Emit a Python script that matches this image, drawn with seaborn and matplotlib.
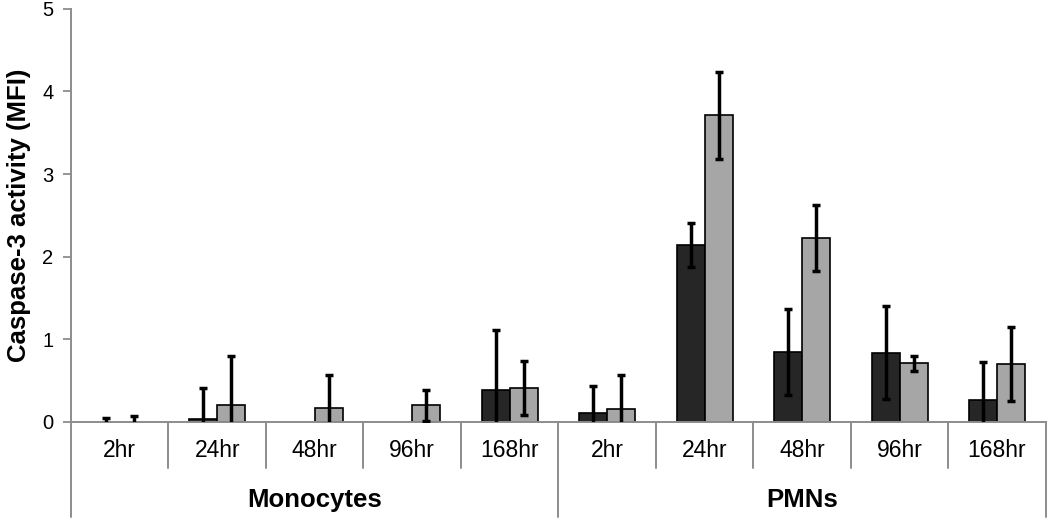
import numpy as np
import pandas as pd
import matplotlib
matplotlib.use("Agg")
import matplotlib.pyplot as plt
import seaborn as sns

groups = ["Monocytes", "PMNs"]
times = ["2hr", "24hr", "48hr", "96hr", "168hr"]
series = ["Series 1", "Series 2"]
yticks = [0, 1, 2, 3, 4, 5]

# values per series: Monocytes (5 times) then PMNs (5 times)
s1_vals = [0.0, 0.03, 0.0, 0.0, 0.39, 0.11, 2.14, 0.85, 0.84, 0.26]
s1_err = [0.045, 0.38, 0.0, 0.0, 0.72, 0.33, 0.27, 0.52, 0.56, 0.47]
s2_vals = [0.0, 0.20, 0.17, 0.20, 0.41, 0.16, 3.71, 2.23, 0.71, 0.70]
s2_err = [0.07, 0.60, 0.40, 0.19, 0.33, 0.41, 0.53, 0.40, 0.09, 0.45]

colors = ["#262626", "#a6a6a6"]

sns.set_theme(style="white")
plt.rcParams["font.family"] = ["Liberation Sans", "DejaVu Sans"]
plt.rcParams["ytick.labelsize"] = 14.5
plt.rcParams["ytick.left"] = True
plt.rcParams["ytick.major.size"] = 5.5
plt.rcParams["ytick.major.width"] = 1.3
plt.rcParams["ytick.major.pad"] = 7
plt.rcParams["ytick.color"] = "#8c8c8c"
plt.rcParams["ytick.labelcolor"] = "black"

keys = [f"{g} {t}" for g in groups for t in times]
df = pd.DataFrame({
    "key": keys * 2,
    "series": [series[0]] * len(keys) + [series[1]] * len(keys),
    "value": s1_vals + s2_vals,
    "err": s1_err + s2_err,
})

fig = plt.figure(figsize=(10.5, 5.19), dpi=100)
ax = fig.add_axes([0.0676, 0.187, 0.9284, 0.796])

sns.barplot(data=df, x="key", y="value", hue="series", order=keys,
            hue_order=series, palette=colors, width=0.575, gap=0,
            edgecolor="black", linewidth=1.2, errorbar=None, legend=False,
            saturation=1, ax=ax)

# error bars from bar patches
n = len(keys)
patches = ax.patches
for i, p in enumerate(patches[:2 * n]):
    si = i // n
    ci = i % n
    err = (s1_err if si == 0 else s2_err)[ci]
    val = (s1_vals if si == 0 else s2_vals)[ci]
    if val == 0:
        p.set_linewidth(0)
    if err > 0:
        xc = p.get_x() + p.get_width() / 2
        ax.errorbar(xc, val, yerr=err, fmt="none", ecolor="black",
                    elinewidth=2.5, capsize=3.2, capthick=2.5, zorder=5)

gray = "#8c8c8c"
ax.set_ylim(0, 5)
ax.set_xlim(-0.5, n - 0.5)
ax.set_yticks(yticks, labels=[str(t) for t in yticks], fontsize=14.5,
              color="black")
ax.tick_params(axis="y", which="major", left=True, direction="out",
               length=5.5, width=1.3, color=gray, pad=7)
ax.set_xticks([])
ax.set_xlabel("")
ax.set_ylabel("Caspase-3 activity (MFI)", fontsize=18.5, fontweight="bold",
              labelpad=8, color="black")

for side in ["top", "right"]:
    ax.spines[side].set_visible(False)
for side in ["left", "bottom"]:
    ax.spines[side].set_color(gray)
    ax.spines[side].set_linewidth(1.4)

trans = ax.get_xaxis_transform()
short = -0.112
long_ = -0.23
# separators
for b in np.arange(-0.5, n, 1.0):
    if b in (-0.5, 4.5, 9.5):
        ax.plot([b, b], [0, long_], transform=trans, color=gray, lw=1.4,
                clip_on=False)
    else:
        ax.plot([b, b], [0, short], transform=trans, color=gray, lw=1.4,
                clip_on=False)

labels = times * 2
for i, lab in enumerate(labels):
    ax.text(i, -0.068, lab, transform=trans, ha="center", va="center",
            fontsize=16.5, color="black")
for gi, g in enumerate(groups):
    ax.text(gi * 5 + 2, -0.19, g, transform=trans, ha="center", va="center",
            fontsize=18.5, fontweight="bold", color="black")

fig.savefig("out.png", dpi=100)
